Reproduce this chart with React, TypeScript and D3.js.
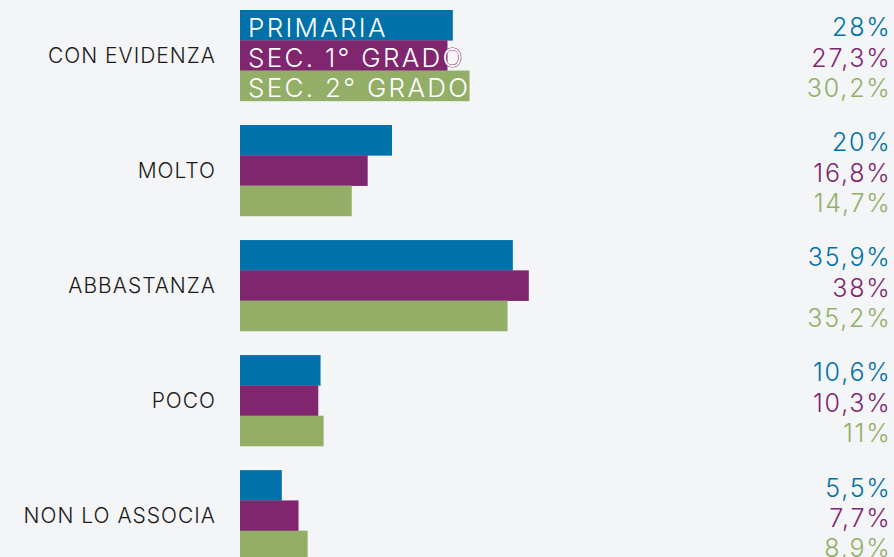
import React, { useEffect, useRef } from "react";
import * as d3 from "d3";

const categories = ["CON EVIDENZA", "MOLTO", "ABBASTANZA", "POCO", "NON LO ASSOCIA"];
const seriesNames = ["PRIMARIA", "SEC. 1° GRADO", "SEC. 2° GRADO"];
const seriesColors = ["#0071a9", "#7f266e", "#92ae67"];

const primaria = [28, 20, 35.9, 10.6, 5.5];
const sec1 = [27.3, 16.8, 38, 10.3, 7.7];
const sec2 = [30.2, 14.7, 35.2, 11, 8.9];

const width = 894;
const height = 557;

export default function App() {
  const ref = useRef<SVGSVGElement>(null);

  useEffect(() => {
    const svg = d3.select(ref.current);
    svg.selectAll("*").remove();

    const values = [primaria, sec1, sec2];
    const rows = categories.map((c, i) => ({
      cat: c,
      vals: values.map((v, s) => ({ s, v: v[i] })),
    }));

    let x = d3.scaleLinear().domain([0, 38]).range([240, 528.8]);
    let y = d3.scaleBand().domain(categories).range([10, 561]).paddingInner(0.21);
    let yi = d3.scaleBand<number>().domain([0, 1, 2]).range([0, y.bandwidth()]);
    let fmt = (v: number) => String(v).replace(".", ",") + "%";

    svg.append("rect").attr("width", width).attr("height", height).attr("fill", "#f4f5f7");

    const g = svg
      .selectAll("g.row")
      .data(rows)
      .join("g")
      .attr("class", "row")
      .attr("transform", d => `translate(0,${y(d.cat)})`);

    g.append("text")
      .attr("x", 216)
      .attr("y", y.bandwidth() / 2)
      .attr("dy", "0.35em")
      .attr("text-anchor", "end")
      .attr("fill", "#1a1a1a")
      .style("font-size", "21px")
      .style("font-weight", 300)
      .style("letter-spacing", "1px")
      .text(d => d.cat);

    g.selectAll("rect.bar")
      .data(d => d.vals)
      .join("rect")
      .attr("class", "bar")
      .attr("x", x(0))
      .attr("y", d => yi(d.s)!)
      .attr("width", d => x(d.v) - x(0))
      .attr("height", yi.bandwidth() + 0.3)
      .attr("fill", d => seriesColors[d.s]);

    g.selectAll("text.val")
      .data(d => d.vals)
      .join("text")
      .attr("class", "val")
      .attr("x", 891.5)
      .attr("y", d => yi(d.s)! + yi.bandwidth() / 2)
      .attr("dy", "0.45em")
      .attr("text-anchor", "end")
      .attr("fill", d => seriesColors[d.s])
      .style("font-size", "25px")
      .style("font-weight", 300)
      .style("letter-spacing", "1.8px")
      .text(d => fmt(d.v));

    // legend written inside the first group of bars
    svg
      .append("g")
      .attr("transform", `translate(0,${y(categories[0])})`)
      .selectAll("text")
      .data(seriesNames)
      .join("text")
      .attr("x", 248)
      .attr("y", (d, i) => yi(i)! + yi.bandwidth() / 2)
      .attr("dy", "0.44em")
      .attr("fill", "#ffffff")
      .attr("stroke", (d, i) => seriesColors[i])
      .attr("stroke-width", 1.2)
      .style("paint-order", "stroke")
      .style("font-size", "26px")
      .style("font-weight", 300)
      .style("letter-spacing", "2.3px")
      .text(d => d);
  }, []);

  return (
    <svg
      ref={ref}
      width={width}
      height={height}
      style={{ position: "absolute", left: 0, top: 0, fontFamily: "Inter, sans-serif" }}
    />
  );
}
